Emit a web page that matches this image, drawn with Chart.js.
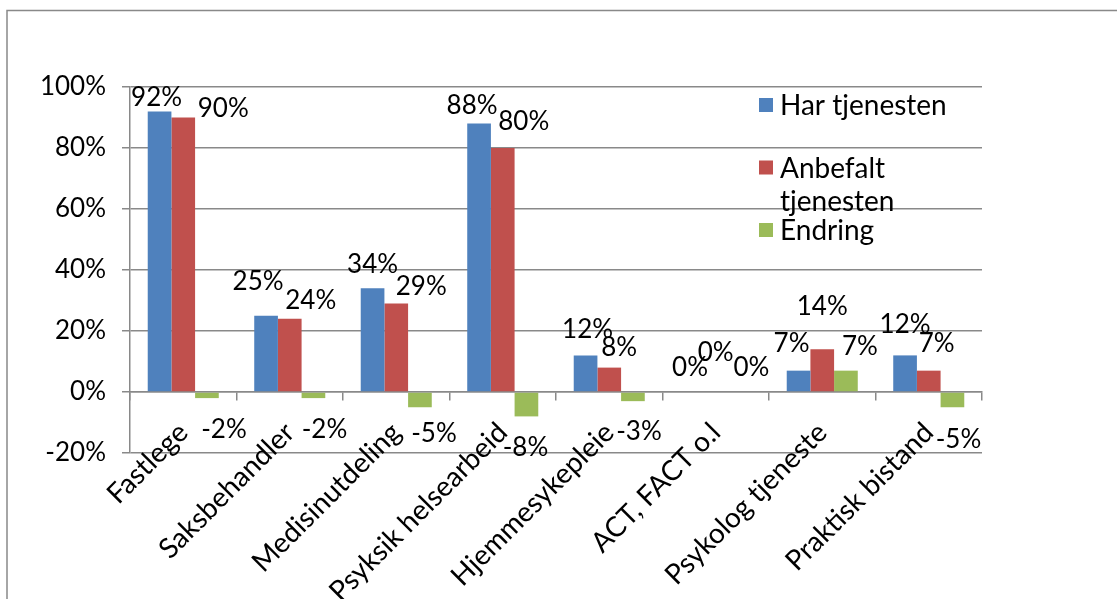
<!DOCTYPE html>
<html>
<head>
<meta charset="utf-8">
<script src="https://cdn.jsdelivr.net/npm/chart.js@4.4.0/dist/chart.umd.min.js"></script>
<style>
  html, body { margin: 0; padding: 0; background: #fff; }
  #wrap { width: 1117px; height: 599px; }
</style>
</head>
<body>
<div id="wrap"><canvas id="chart" width="1117" height="599"></canvas></div>
<script>
// ── data ─────────────────────────────────────
const categories = [
  'Fastlege', 'Saksbehandler', 'Medisinutdeling', 'Psyksik helsearbeid',
  'Hjemmesykepleie', 'ACT, FACT o.l', 'Psykolog tjeneste', 'Praktisk bistand',
];
const seriesNames = ['Har tjenesten', 'Anbefalt tjenesten', 'Endring'];
const harTjenesten      = [0.92, 0.25, 0.34, 0.88, 0.12, 0.00, 0.07, 0.12];
const anbefaltTjenesten = [0.90, 0.24, 0.29, 0.80, 0.08, 0.00, 0.14, 0.07];
const endring           = [-0.02, -0.02, -0.05, -0.08, -0.03, 0.00, 0.07, -0.05];
const yTicks = [-0.2, 0, 0.2, 0.4, 0.6, 0.8, 1.0];

// ── style ────────────────────────────────────
const COLORS = ['#4F81BD', '#C0504D', '#9BBB59'];
const GRID = '#898989';
const FONT = 'Lato, "DejaVu Sans", sans-serif';
const FS = 26;      // numbers
const FS_TXT = 28;  // category names, legend
// label nudges (dx, dy) from the bar end, as the labels sit in the original
const LABEL_NUDGE = [
  [[-3, -15], [-8, -35], [0, -25], [-7, -19], [2, -27], [-2, -25], [-7, -28], [0, -32]],
  [[40, -10], [21, -19], [25, -18], [21, -27], [10, -21], [0, -40], [0, -44], [8, -28]],
  [[17, 31], [11, 31], [14, 25], [-1, 30], [6, 29], [12, -25], [14, -25], [6, 31]],
];

const pct = v => Math.round(v * 100) + '%';

const frame = {
  id: 'frame',
  beforeDraw(chart) {
    const { ctx, width, height } = chart;
    ctx.save();
    ctx.fillStyle = '#fff';
    ctx.fillRect(0, 0, width, height);
    ctx.strokeStyle = GRID;
    ctx.lineWidth = 1.5;
    ctx.beginPath();
    ctx.moveTo(7, height);
    ctx.lineTo(7, 10.5);
    ctx.lineTo(width, 10.5);
    ctx.stroke();
    ctx.restore();
  },
};

const valueLabels = {
  id: 'valueLabels',
  afterDatasetsDraw(chart) {
    const { ctx } = chart;
    ctx.save();
    ctx.font = `${FS}px ${FONT}`;
    ctx.fillStyle = '#000';
    ctx.textAlign = 'center';
    ctx.textBaseline = 'alphabetic';
    chart.data.datasets.forEach((ds, di) => {
      chart.getDatasetMeta(di).data.forEach((bar, i) => {
        const [dx, dy] = LABEL_NUDGE[di][i];
        ctx.fillText(pct(ds.data[i]), bar.x + dx, bar.y + dy + FS * 0.36);
      });
    });
    ctx.restore();
  },
};

const sideLegend = {
  id: 'sideLegend',
  afterDraw(chart) {
    const { ctx } = chart;
    const x = chart.chartArea.right - 223, top = 98, step = 62.5, box = 14, maxW = 200;
    ctx.save();
    ctx.font = `${FS_TXT}px ${FONT}`;
    ctx.textBaseline = 'alphabetic';
    ctx.textAlign = 'left';
    chart.data.datasets.forEach((ds, i) => {
      const y = top + i * step;
      ctx.fillStyle = ds.backgroundColor;
      ctx.fillRect(x, y, box, box);
      // simple word wrap
      const lines = [];
      let cur = '';
      ds.label.split(' ').forEach(w => {
        const t = cur ? cur + ' ' + w : w;
        if (cur && ctx.measureText(t).width > maxW) { lines.push(cur); cur = w; } else cur = t;
      });
      lines.push(cur);
      ctx.fillStyle = '#000';
      lines.forEach((ln, k) => ctx.fillText(ln, x + 21, y + 17 + k * 33));
    });
    ctx.restore();
  },
};

new Chart(document.getElementById('chart'), {
  type: 'bar',
  data: {
    labels: categories,
    datasets: [harTjenesten, anbefaltTjenesten, endring].map((d, i) => ({
      label: seriesNames[i],
      data: d,
      backgroundColor: COLORS[i],
      borderWidth: 0,
      categoryPercentage: 0.667,
      barPercentage: 1.0,
    })),
  },
  options: {
    responsive: false,
    animation: false,
    devicePixelRatio: 1,
    layout: { padding: { left: 30, top: 87, right: 135, bottom: 146 } },
    scales: {
      x: {
        position: { y: 0 },
        offset: true,
        afterFit: s => { s.height = 0; },
        grid: { drawOnChartArea: false, drawTicks: true, tickLength: 8, color: GRID, lineWidth: 1.5 },
        border: { display: true, color: GRID, width: 1.5 },
        ticks: {
          color: '#000', font: { family: FONT, size: FS_TXT },
          minRotation: 45, maxRotation: 45, autoSkip: false, padding: 16,
        },
      },
      y: {
        min: -0.2,
        max: 1.0,
        afterBuildTicks: s => { s.ticks = yTicks.map(v => ({ value: v })); },
        afterFit: s => { s.width = 100; },
        grid: { color: GRID, lineWidth: 1.5, tickLength: 8 },
        border: { display: true, color: GRID, width: 1.5 },
        ticks: { color: '#000', font: { family: FONT, size: FS }, padding: 16, callback: v => pct(v) },
      },
    },
    plugins: {
      legend: { display: false },
      tooltip: { enabled: false },
    },
  },
  plugins: [frame, valueLabels, sideLegend],
});
</script>
</body>
</html>
